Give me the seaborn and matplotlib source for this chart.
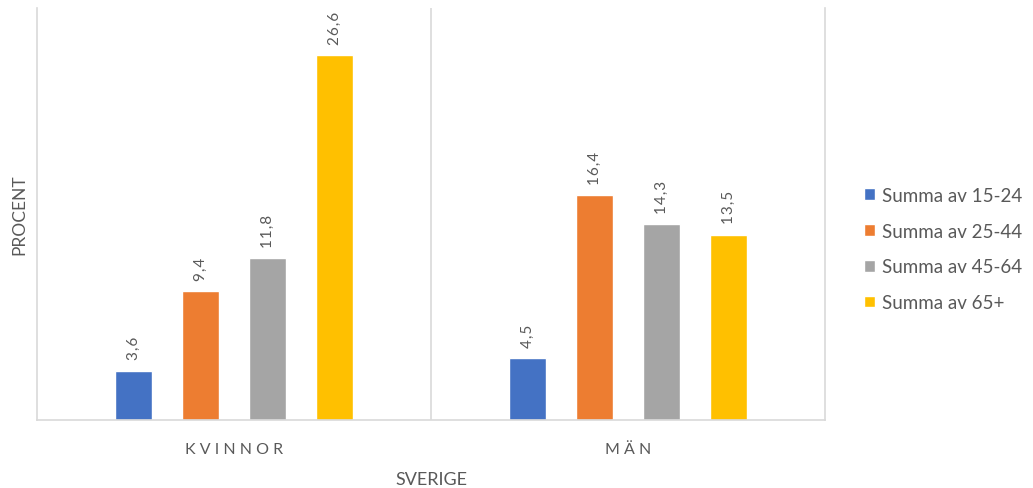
import matplotlib
matplotlib.use("Agg")
import matplotlib.pyplot as plt
import seaborn as sns
import pandas as pd

categories = ["KVINNOR", "MÄN"]
series = ["Summa av 15-24", "Summa av 25-44", "Summa av 45-64", "Summa av 65+"]
values_15_24 = [3.6, 4.5]
values_25_44 = [9.4, 16.4]
values_45_64 = [11.8, 14.3]
values_65 = [26.6, 13.5]
colors = ["#4472C4", "#ED7D31", "#A5A5A5", "#FFC000"]

rows = []
for s, vals in zip(series, [values_15_24, values_25_44, values_45_64, values_65]):
    for c, v in zip(categories, vals):
        rows.append({"cat": c, "series": s, "value": v})
df = pd.DataFrame(rows)

sns.set_style("white")
plt.rcParams["font.family"] = ["Lato", "DejaVu Sans"]
txt = "#595959"
line = "#D9D9D9"

fig = plt.figure(figsize=(10.33, 4.89), dpi=100)
ax = fig.add_axes([37 / 1033, 1 - 421 / 489, (825 - 37) / 1033, (421 - 9) / 489])

sns.barplot(data=df, x="cat", y="value", hue="series", palette=colors,
            hue_order=series, order=categories, width=0.68, gap=0.46,
            ax=ax, legend=True, saturation=1)

for cont in ax.containers:
    labels = ["\u200a".join(f"{v:.1f}".replace(".", ",")) for v in cont.datavalues]
    ax.bar_label(cont, labels=labels, rotation=90, padding=8, color=txt, fontsize=11)

ax.set_ylim(0, 30)
ax.set_xlim(-0.5, 1.5)
ax.set_yticks([])
ax.axvline(0.5, color=line, lw=1.2)
for sp in ["left", "bottom", "right"]:
    ax.spines[sp].set_color(line)
    ax.spines[sp].set_linewidth(1.2)
ax.spines["top"].set_visible(False)

spaced = [" ".join(list(c)) for c in categories]
ax.set_xticks([0, 1])
ax.set_xticklabels(spaced, color=txt, fontsize=11.5)
ax.tick_params(axis="x", length=0, pad=16)
ax.set_xlabel("SVERIGE", color=txt, fontsize=13, labelpad=11)
ax.set_ylabel("PROCENT", color=txt, fontsize=12.5, labelpad=7)

leg = ax.legend(loc="center left", bbox_to_anchor=(1.028, 0.415), frameon=False,
                fontsize=13.5, handlelength=0.6, handleheight=0.6,
                handletextpad=0.35, labelspacing=1.0, labelcolor=txt)

fig.savefig("out.png", dpi=100)
